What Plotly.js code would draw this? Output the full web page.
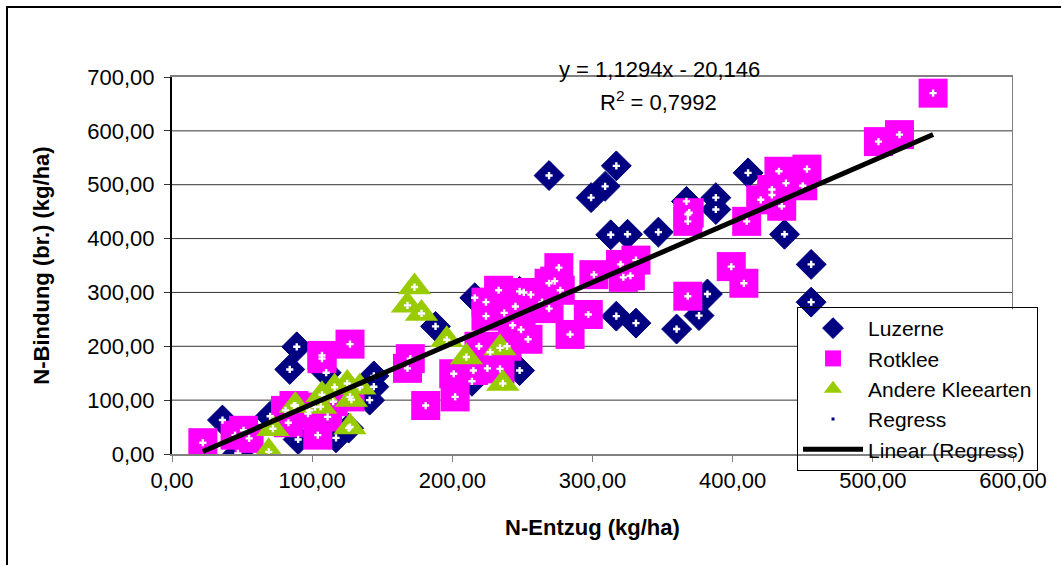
<!DOCTYPE html>
<html><head><meta charset="utf-8">
<script src="https://cdn.plot.ly/plotly-3.0.1.min.js"></script>
<style>html,body{margin:0;padding:0;background:#fff}#chart{width:1061px;height:565px}</style>
</head><body><div id="chart"></div>
<script>
// ---- data ----
const luzerneX = [36,47,70,90,84,89,110,117,126,141,144,144,188,216,214,248,248,269,299,309,317,313,325,347,367,388,388,411,437,317,331,360,376,382,456,456];
const luzerneY = [63,1,70,27,157,199,151,30,48,100,125,145,237,290,135,155,302,517,476,497,535,407,408,412,469,476,454,522,408,256,243,232,257,297,352,282];

const rotkleeX = [22,45,51,55,81,83,87,97,98,102,104,107,107,111,115,127,127,170,168,181,201,202,215,219,224,224,225,227,233,234,237,239,243,245,249,251,256,254,264,269,273,269,276,277,284,297,301,320,322,327,331,368,369,368,368,399,408,410,420,428,428,433,435,438,450,453,504,519,543];
const rotkleeY = [21,35,44,29,81,58,90,75,81,87,35,183,177,69,97,106,204,177,159,90,149,106,155,200,282,256,159,189,304,158,262,200,239,274,231,300,296,213,282,317,321,270,346,304,222,259,333,352,328,331,360,445,448,432,293,348,317,432,472,491,481,525,460,503,498,529,580,593,670];

const andereX = [69,72,88,106,107,116,125,128,134,127,168,173,178,196,210,234,236];
const andereY = [4,47,90,88,110,124,131,101,124,50,276,310,261,212,180,197,131];

const seriesNames = ['Luzerne','Rotklee','Andere Kleearten','Regress','Linear (Regress)'];
const slope = 1.1294, intercept = -20.146;
const eqText = 'y = 1,1294x - 20,146';
const r2Text = 'R<sup>2</sup> = 0,7992';
const xTitle = 'N-Entzug (kg/ha)';
const yTitle = 'N-Bindung (br.) (kg/ha)';
const yGridValues = [100,200,300,400,500,600];

// ---- derived ----
const allX = luzerneX.concat(rotkleeX, andereX);
const allY = luzerneY.concat(rotkleeY, andereY);
const xMin = Math.min(...allX), xMax = Math.max(...allX);
const lineX = [xMin, xMax];
const lineY = lineX.map(v => slope * v + intercept);

const FONT = 'Liberation Sans, Arial, sans-serif';
const FS = 22;

const traces = [
  {type:'scatter', mode:'markers', name:seriesNames[0], x:luzerneX, y:luzerneY,
   marker:{symbol:'diamond', size:23, color:'#000080', line:{color:'#000080', width:1}}},
  {type:'scatter', mode:'markers', name:seriesNames[1], x:rotkleeX, y:rotkleeY,
   marker:{symbol:'square', size:29, color:'#FF00FF', line:{width:0}}},
  {type:'scatter', mode:'markers', name:seriesNames[2], x:andereX, y:andereY,
   marker:{symbol:'triangle-up', size:29, color:'#99CC00', line:{width:0}}},
  {type:'scatter', mode:'markers', name:seriesNames[3], x:allX, y:allY,
   marker:{symbol:'square', size:3, color:'#000080', line:{width:0}}},
  {type:'scatter', mode:'markers', name:'Regress points', showlegend:false, x:allX, y:allY,
   marker:{symbol:'cross', size:6, color:'#FFFFFF', line:{width:0}}, hoverinfo:'skip'},
  {type:'scatter', mode:'lines', name:seriesNames[4], x:lineX, y:lineY,
   line:{color:'#000000', width:5}}
];

const shapes = [];
yGridValues.forEach(v => shapes.push({type:'line', xref:'x', yref:'y', x0:0, x1:600, y0:v, y1:v,
  line:{color:'#333333', width:1}, layer:'below'}));
shapes.push({type:'line', xref:'x', yref:'y', x0:600, x1:600, y0:0, y1:700,
  line:{color:'#808080', width:2}, layer:'below'});
// white backing behind the legend
shapes.push({type:'rect', xref:'x', yref:'y', x0:446, x1:640, y0:-20, y1:268.5,
  fillcolor:'#FFFFFF', line:{width:0}, layer:'below'});
// outer chart frame
shapes.push({type:'rect', xref:'paper', yref:'paper', x0:-0.1962, x1:2, y0:-2, y1:1.1857,
  line:{color:'#000000', width:2}, fillcolor:'rgba(0,0,0,0)', layer:'above'});

const layout = {
  width:1061, height:565,
  margin:{l:172, r:48, t:77, b:111},
  paper_bgcolor:'#FFFFFF', plot_bgcolor:'#FFFFFF',
  separators:',.',
  font:{family:FONT, size:FS, color:'#000'},
  showlegend:true,
  xaxis:{range:[0,600], dtick:100, tick0:0, tickformat:'.2f', showgrid:false, zeroline:false,
    showline:true, linecolor:'#808080', linewidth:2, mirror:true,
    ticks:'outside', ticklen:6, tickcolor:'#808080', tickwidth:1,
    tickfont:{family:FONT, size:FS, color:'#000'},
    title:{text:xTitle, font:{family:FONT, size:FS, color:'#000', weight:'bold'}, standoff:27}},
  yaxis:{range:[0,700], dtick:100, tick0:0, tickformat:'.2f', showgrid:false, zeroline:false,
    showline:true, linecolor:'#000000', linewidth:2,
    ticks:'outside', ticklen:6, tickcolor:'#333', tickwidth:1, ticklabelstandoff:5,
    tickfont:{family:FONT, size:FS, color:'#000'},
    title:{text:yTitle, font:{family:FONT, size:FS, color:'#000', weight:'bold'}, standoff:32}},
  legend:{x:0.7432, y:0.39, xanchor:'left', yanchor:'top',
    bgcolor:'rgba(0,0,0,0)', bordercolor:'#000', borderwidth:1,
    font:{family:FONT, size:21, color:'#000'}, itemwidth:60, traceorder:'normal'},
  annotations:[
    {xref:'paper', yref:'paper', x:0.580, y:1.021, text:eqText, showarrow:false,
     font:{family:FONT, size:FS, color:'#000'}, xanchor:'center', yanchor:'middle'},
    {xref:'paper', yref:'paper', x:0.578, y:0.937, text:r2Text, showarrow:false,
     font:{family:FONT, size:FS, color:'#000'}, xanchor:'center', yanchor:'middle'}
  ],
  shapes:shapes
};

Plotly.newPlot('chart', traces, layout, {displayModeBar:false, staticPlot:true});
</script>
</body></html>
